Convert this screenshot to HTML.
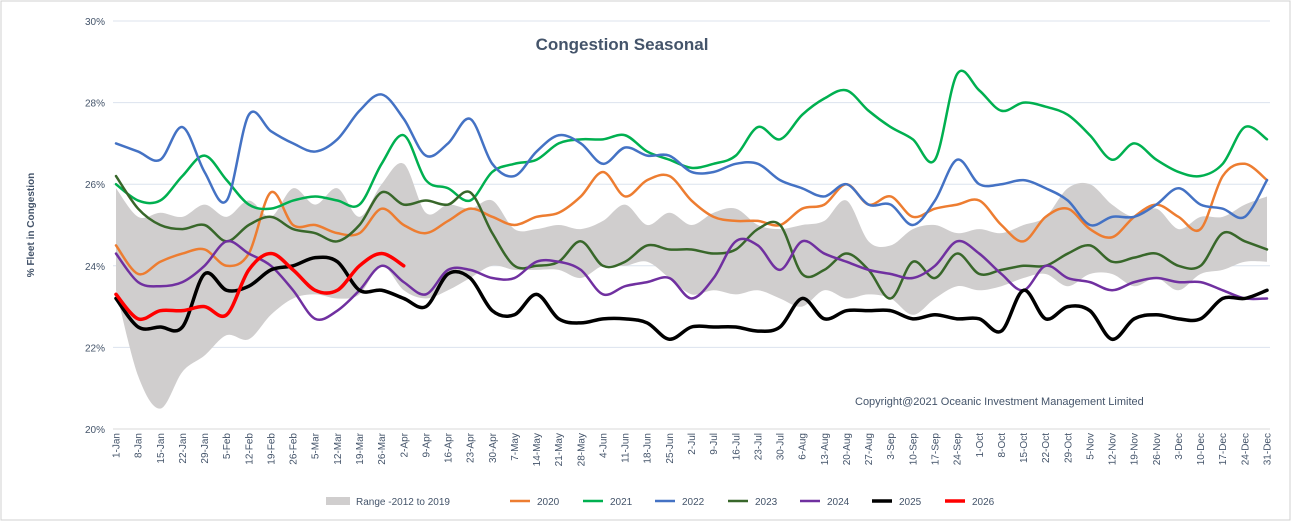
<!DOCTYPE html>
<html><head><meta charset="utf-8"><style>
body{margin:0;background:#fff;font-family:"Liberation Sans",sans-serif}
svg{display:block}
</style></head><body>
<svg id="chart" width="1293" height="524">
<rect x="1" y="1" width="1289" height="519" fill="#fff" stroke="#d0d0d0"/>
<text x="622" y="50" text-anchor="middle" font-size="17" font-weight="bold" fill="#44546a">Congestion Seasonal</text>
<text transform="translate(34,225) rotate(-90)" text-anchor="middle" font-size="10" font-weight="bold" fill="#44546a">% Fleet in Congestion</text>
<text x="855" y="405" font-size="11" fill="#44546a">Copyright@2021 Oceanic Investment Management Limited</text>
<g id="grid"></g><g id="band"></g><g id="lines"></g><g id="xlabels"></g><g id="legend"></g>
</svg>
<script>
const yTicks=[20,22,24,26,28,30];
const weeks=["1-Jan","8-Jan","15-Jan","22-Jan","29-Jan","5-Feb","12-Feb","19-Feb","26-Feb","5-Mar","12-Mar","19-Mar","26-Mar","2-Apr","9-Apr","16-Apr","23-Apr","30-Apr","7-May","14-May","21-May","28-May","4-Jun","11-Jun","18-Jun","25-Jun","2-Jul","9-Jul","16-Jul","23-Jul","30-Jul","6-Aug","13-Aug","20-Aug","27-Aug","3-Sep","10-Sep","17-Sep","24-Sep","1-Oct","8-Oct","15-Oct","22-Oct","29-Oct","5-Nov","12-Nov","19-Nov","26-Nov","3-Dec","10-Dec","17-Dec","24-Dec","31-Dec"];
const rangeHigh=[25.9,25.2,25.3,25.2,25.5,25.2,25.6,25.2,25.9,25.5,25.9,25.2,26.0,26.5,25.3,25.5,25.4,25.6,24.9,24.9,25.0,24.9,25.1,25.5,25.0,25.3,25.0,25.3,25.4,25.0,24.9,25.0,25.1,25.6,24.6,24.5,24.9,25.0,24.8,24.9,24.8,25.0,25.2,25.9,26.0,25.5,25.2,25.4,24.9,25.2,25.2,25.5,25.7];
const rangeLow=[23.4,21.3,20.5,21.4,21.8,22.3,22.2,22.8,23.2,23.3,23.2,23.3,24.0,23.4,23.2,23.4,23.7,24.0,23.9,23.9,23.9,23.7,24.0,24.0,24.1,23.7,23.3,23.4,23.3,23.4,23.2,23.0,23.4,23.2,23.3,23.2,22.8,23.2,23.5,23.4,23.5,23.7,23.8,23.5,23.8,23.8,23.5,23.7,23.4,23.8,23.9,24.1,24.1];
const s2020=[24.5,23.8,24.1,24.3,24.4,24.0,24.3,25.8,25.0,25.0,24.8,24.8,25.4,25.0,24.8,25.1,25.4,25.2,25.0,25.2,25.3,25.7,26.3,25.7,26.1,26.2,25.6,25.2,25.1,25.1,25.0,25.4,25.5,26.0,25.5,25.7,25.2,25.4,25.5,25.6,25.0,24.6,25.2,25.4,24.9,24.7,25.2,25.5,25.2,24.9,26.2,26.5,26.1];
const s2021=[26.0,25.6,25.6,26.2,26.7,26.1,25.5,25.4,25.6,25.7,25.6,25.5,26.5,27.2,26.1,25.9,25.6,26.3,26.5,26.6,27.0,27.1,27.1,27.2,26.8,26.6,26.4,26.5,26.7,27.4,27.1,27.7,28.1,28.3,27.8,27.4,27.1,26.6,28.7,28.3,27.8,28.0,27.9,27.7,27.2,26.6,27.0,26.6,26.3,26.2,26.5,27.4,27.1];
const s2022=[27.0,26.8,26.6,27.4,26.3,25.6,27.7,27.3,27.0,26.8,27.1,27.8,28.2,27.6,26.7,27.0,27.6,26.5,26.2,26.8,27.2,27.0,26.5,26.9,26.7,26.7,26.3,26.3,26.5,26.5,26.1,25.9,25.7,26.0,25.5,25.5,25.0,25.6,26.6,26.0,26.0,26.1,25.9,25.6,25.0,25.2,25.2,25.5,25.9,25.5,25.4,25.2,26.1];
const s2023=[26.2,25.4,25.0,24.9,25.0,24.6,25.0,25.2,24.9,24.8,24.6,25.0,25.8,25.5,25.6,25.5,25.8,24.8,24.0,24.0,24.1,24.6,24.0,24.1,24.5,24.4,24.4,24.3,24.4,24.9,25.0,23.8,23.9,24.3,23.9,23.2,24.1,23.7,24.3,23.8,23.9,24.0,24.0,24.3,24.5,24.1,24.2,24.3,24.0,24.0,24.8,24.6,24.4];
const s2024=[24.3,23.6,23.5,23.6,24.0,24.6,24.3,24.0,23.4,22.7,22.9,23.4,24.0,23.6,23.3,23.9,23.9,23.7,23.7,24.1,24.1,23.9,23.3,23.5,23.6,23.7,23.2,23.7,24.6,24.5,23.9,24.6,24.3,24.1,23.9,23.8,23.7,24.0,24.6,24.3,23.8,23.4,24.0,23.7,23.6,23.4,23.6,23.7,23.6,23.6,23.4,23.2,23.2];
const s2025=[23.2,22.5,22.5,22.5,23.8,23.4,23.5,23.9,24.0,24.2,24.1,23.4,23.4,23.2,23.0,23.8,23.7,22.9,22.8,23.3,22.7,22.6,22.7,22.7,22.6,22.2,22.5,22.5,22.5,22.4,22.5,23.2,22.7,22.9,22.9,22.9,22.7,22.8,22.7,22.7,22.4,23.4,22.7,23.0,22.9,22.2,22.7,22.8,22.7,22.7,23.2,23.2,23.4];
const s2026=[23.3,22.7,22.9,22.9,23.0,22.8,23.9,24.3,23.9,23.4,23.4,24.0,24.3,24.0];
const seriesNames=["2020","2021","2022","2023","2024","2025","2026"];
const seriesData=[s2020,s2021,s2022,s2023,s2024,s2025,s2026];
const seriesColors=["#ed7d31","#00b050","#4472c4","#38672a","#7030a0","#000000","#ff0000"];
const seriesWidths=[2.5,2.5,2.5,2.5,2.5,3.5,3.5];

const NS="http://www.w3.org/2000/svg";
const x0=116,x1=1267,yTop=21,yBot=429,vMin=20,vMax=30;
const xs=i=>x0+i*(x1-x0)/(weeks.length-1);
const ys=v=>yBot-(v-vMin)*(yBot-yTop)/(vMax-vMin);
function mk(t,a,p){const e=document.createElementNS(NS,t);for(const k in a)e.setAttribute(k,a[k]);p.appendChild(e);return e;}
function smooth(p,start){
 let d=start?('M'+p[0][0]+','+p[0][1]):'';
 for(let i=0;i<p.length-1;i++){
  const a=p[Math.max(0,i-1)],b=p[i],c=p[i+1],e=p[Math.min(p.length-1,i+2)];
  const c1=[b[0]+(c[0]-a[0])/6,b[1]+(c[1]-a[1])/6],c2=[c[0]-(e[0]-b[0])/6,c[1]-(e[1]-b[1])/6];
  d+=' C'+c1[0]+','+c1[1]+' '+c2[0]+','+c2[1]+' '+c[0]+','+c[1];
 }
 return d;
}
const grid=document.getElementById('grid');
yTicks.forEach(v=>{
 const l=mk('line',{x1:x0-3,x2:x1+3,y1:ys(v),y2:ys(v),stroke:v===20?'#d9d9d9':'#dce3ee','stroke-width':1},grid);
 
 
 const t=mk('text',{x:105,y:ys(v)+4,'text-anchor':'end','font-size':10,fill:'#44546a'},grid);
 t.textContent=v+'%';
 
 
});
const band=document.getElementById('band');
const hi=rangeHigh.map((v,i)=>[xs(i),ys(v)]);
const lo=rangeLow.map((v,i)=>[xs(i),ys(v)]).reverse();
const bp=mk('path',{d:smooth(hi,true)+' L'+lo[0][0]+','+lo[0][1]+smooth(lo,false)+' Z',fill:'#d0cece'},band);


const lines=document.getElementById('lines');
seriesData.forEach((d,k)=>{
 const pl=mk('path',{d:smooth(d.map((v,i)=>[xs(i),ys(v)]),true),fill:'none',stroke:seriesColors[k],'stroke-width':seriesWidths[k],'stroke-linejoin':'round','stroke-linecap':'round'},lines);
 
 
});
const xl=document.getElementById('xlabels');
weeks.forEach((w,i)=>{
 const t=mk('text',{transform:`translate(${xs(i)+3.5},433) rotate(-90)`,'text-anchor':'end','font-size':10,fill:'#44546a'},xl);
 t.textContent=w;
 
 
});
const lg=document.getElementById('legend');
const r=mk('rect',{x:326,y:497,width:24,height:8,fill:'#d0cece'},lg);


const rt=mk('text',{x:356,y:505,'font-size':10,fill:'#44546a'},lg);
rt.textContent='Range -2012 to 2019';


const lx=[510,583,655,728,800,872,945];
seriesNames.forEach((n,k)=>{
 const l=mk('line',{x1:lx[k],x2:lx[k]+20,y1:501,y2:501,stroke:seriesColors[k],'stroke-width':seriesWidths[k]},lg);
 
 
 const t=mk('text',{x:lx[k]+27,y:505,'font-size':10,fill:'#44546a'},lg);
 t.textContent=n;
 
 
});
</script>
</body></html>
